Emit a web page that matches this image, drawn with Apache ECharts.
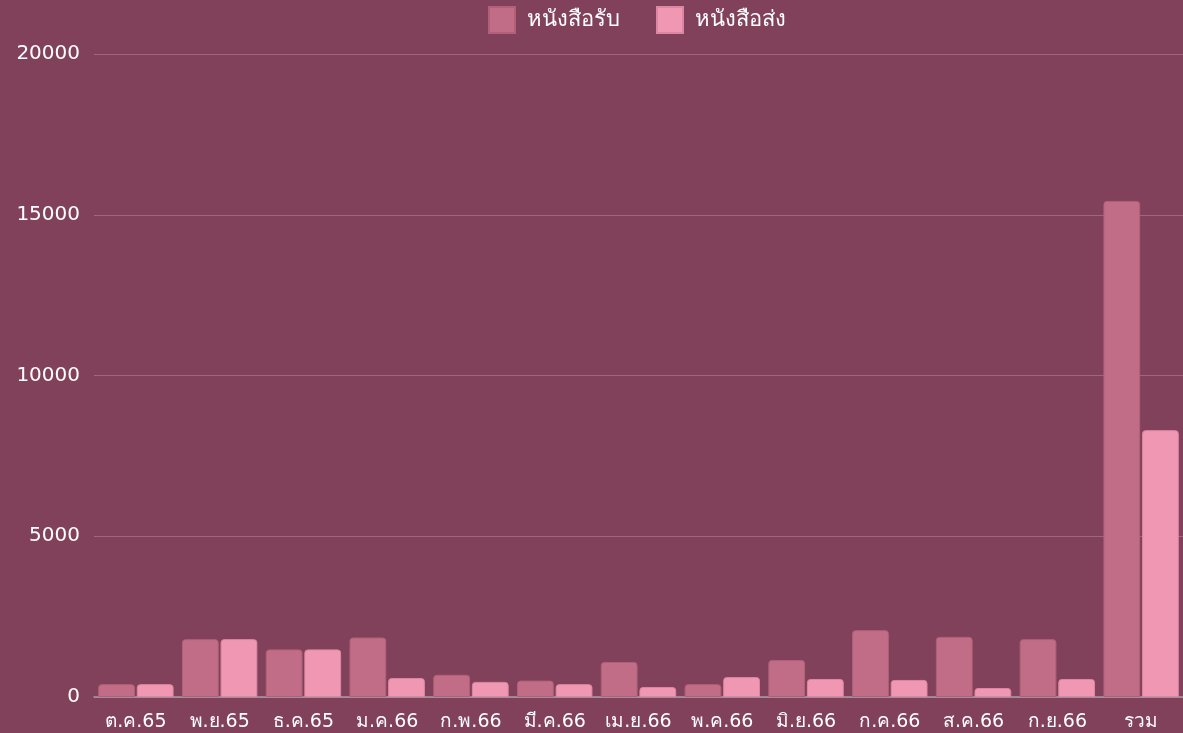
<!DOCTYPE html>
<html lang="th">
<head>
  <meta charset="UTF-8" />
  <title>หนังสือรับ หนังสือส่ง</title>
  <script src="https://cdn.jsdelivr.net/npm/echarts@6/dist/echarts.min.js"></script>
  <style>
    html, body, #main {
      margin: 0; padding: 0; width: 100%; height: 100%;
      background: #82415a;
    }
  </style>
</head>
<body>
  <div id="main"></div>
  <script>
    const months = ['ต.ค.65', 'พ.ย.65', 'ธ.ค.65', 'ม.ค.66', 'ก.พ.66', 'มี.ค.66', 'เม.ย.66',
      'พ.ค.66', 'มิ.ย.66', 'ก.ค.66', 'ส.ค.66', 'ก.ย.66', 'รวม'];
    const received = [400, 1800, 1480, 1850, 690, 510, 1090, 400, 1150, 2080, 1870, 1800, 15430];
    const sent = [400, 1800, 1480, 590, 470, 400, 310, 620, 560, 530, 280, 560, 8300];

    const chart = echarts.init(document.getElementById('main'));
    const font = '"DejaVu Sans", "Noto Sans", sans-serif';

    chart.setOption({
      backgroundColor: '#82415a',
      textStyle: { fontFamily: font },
      legend: {
        top: 1,
        left: 483,
        icon: 'rect',
        itemWidth: 26,
        itemHeight: 26,
        itemGap: 36,
        textStyle: { color: '#fff', fontSize: 22, fontWeight: 500, fontFamily: font, padding: [0, 0, 0, 7] }
      },
      grid: { left: 94, right: 0, top: 54, bottom: 36, containLabel: false },
      xAxis: {
        type: 'category',
        data: months,
        axisTick: { show: false },
        axisLine: { lineStyle: { color: '#a89aa0', width: 1.5 } },
        axisLabel: { color: '#fff', fontSize: 19, margin: 16, interval: 0 }
      },
      yAxis: {
        type: 'value',
        min: 0,
        max: 20000,
        interval: 5000,
        axisLabel: { color: '#fff', fontSize: 20, margin: 14, formatter: v => String(v) },
        splitLine: { lineStyle: { color: '#a0667e', width: 1 } }
      },
      series: [
        {
          name: 'หนังสือรับ',
          type: 'bar',
          data: received,
          barGap: '5%',
          barCategoryGap: '10%',
          itemStyle: { color: '#c26d87', borderColor: '#b06079', borderWidth: 1, borderRadius: [3, 3, 0, 0] }
        },
        {
          name: 'หนังสือส่ง',
          type: 'bar',
          data: sent,
          itemStyle: { color: '#f097b3', borderColor: '#dc87a2', borderWidth: 1, borderRadius: [3, 3, 0, 0] }
        }
      ]
    });
  </script>
</body>
</html>
